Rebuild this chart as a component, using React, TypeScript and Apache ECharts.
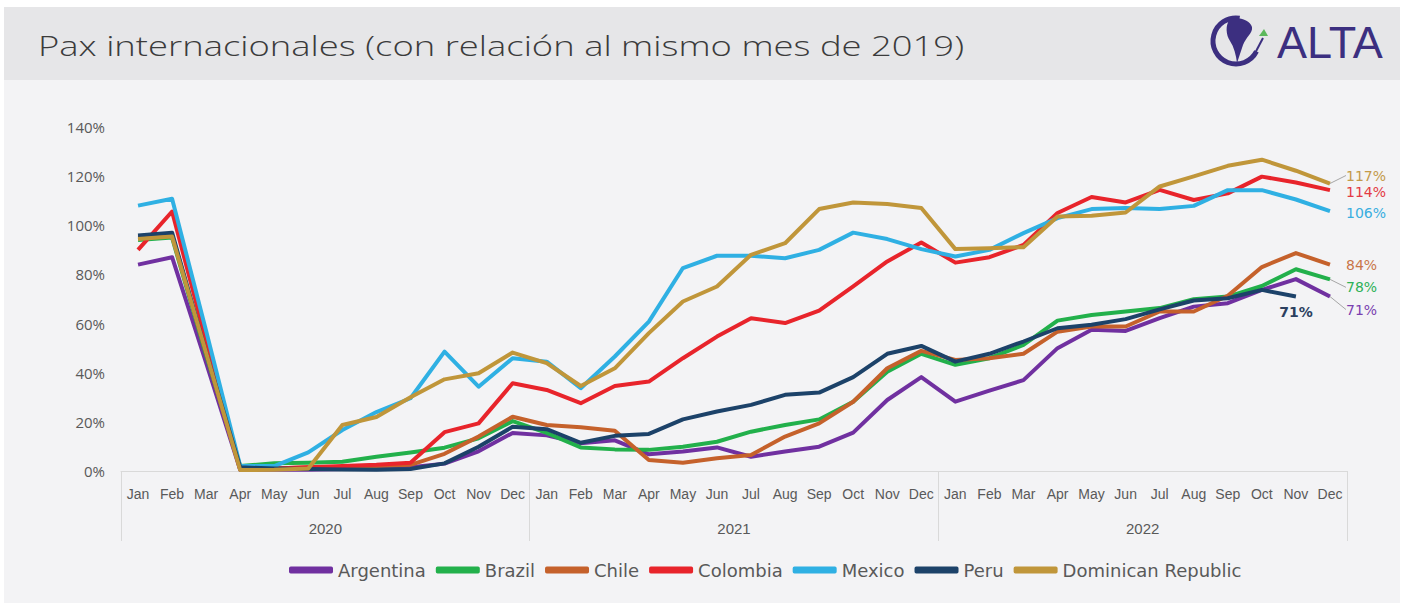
import React, { useEffect, useRef } from "react";
import * as echarts from "echarts";

const years = ["2020", "2021", "2022"];
const months = ["Jan", "Feb", "Mar", "Apr", "May", "Jun", "Jul", "Aug", "Sep", "Oct", "Nov", "Dec"];
const categories = [...months, ...months, ...months];
const yTicks = { min: 0, max: 140, interval: 20 };

const argentina = [84, 87, 44, 0.5, 0.5, 0.5, 0.8, 1, 1.5, 3, 8, 15.5,
  14.5, 11.3, 12.5, 6.8, 7.9, 9.6, 5.8, 7.9, 9.9, 15.6, 28.9, 38.2,
  28.2, 32.7, 37, 50, 57.5, 57, 62.2, 66.9, 68.3, 73.7, 78.1, 71];
const brazil = [94, 95, 47, 2, 3.2, 3.4, 3.8, 5.8, 7.5, 9.5, 13.3, 20.3,
  15.5, 9.6, 8.8, 8.6, 9.9, 11.9, 16, 18.7, 21, 28.2, 40.4, 47.7,
  43.2, 45.9, 51.3, 61.2, 63.5, 64.9, 66.3, 69.9, 71, 75.3, 82.1, 78];
const chile = [95, 96, 48, 0.5, 1, 1.5, 1.5, 2, 2.5, 7, 14, 22.1,
  18.7, 17.8, 16.4, 4.5, 3.4, 5.2, 6.5, 14, 19.4, 28.2, 41.8, 48.9,
  45.2, 45.9, 47.7, 56.7, 58.8, 58.8, 64.9, 64.9, 71.3, 83, 88.7, 84];
const colombia = [90, 105.6, 53, 1, 1, 1.5, 2, 2.5, 3.4, 15.8, 19.4, 35.7,
  33, 27.6, 34.6, 36.4, 45.9, 54.7, 62.2, 60.2, 65.3, 75.1, 85.3, 93,
  84.8, 87, 92, 105, 111.5, 109.3, 114.4, 110.3, 113, 119.8, 117.4, 114.3];
const mexico = [108, 110.8, 57, 2, 2, 7.6, 16.7, 24, 29.6, 48.6, 34.3, 45.9,
  44.5, 33.7, 46.6, 60.8, 82.6, 87.6, 87.6, 86.6, 90, 97, 94.4, 90.3,
  87.3, 90, 96.8, 102.9, 106.6, 107, 106.6, 107.9, 114.3, 114.3, 110.5, 105.8];
const peru = [95.8, 97, 48, 1.5, 1, 0.8, 0.6, 0.5, 0.8, 3.1, 9.9, 18,
  17, 11.5, 14.3, 15.1, 21, 24.2, 26.9, 31, 31.9, 38.2, 47.7, 50.9,
  44.5, 47.7, 52.7, 58.1, 59.5, 61.8, 65.8, 69.4, 70.3, 73.7, 71, null];
const dominican = [94.4, 95.4, 48, 0.4, 0.5, 1, 18.7, 22, 30, 37.3, 39.8, 48.2,
  43.9, 34.6, 41.8, 56.1, 69, 75.1, 88, 92.7, 106.6, 109.3, 108.7, 107,
  90.3, 90.7, 91.1, 103.6, 103.9, 105.2, 115.8, 119.9, 124.2, 126.7, 122.2, 117];

const seriesDefs = [
  { name: "Argentina", data: argentina, color: "#7030a0", label: "#7a3fb0", dy: 13, pos: "right" },
  { name: "Brazil", data: brazil, color: "#22b04b", label: "#2eb157", dy: 8, pos: "right" },
  { name: "Chile", data: chile, color: "#c5612b", label: "#c97548", dy: 0, pos: "right" },
  { name: "Colombia", data: colombia, color: "#e8242b", label: "#e33a44", dy: 2, pos: "right" },
  { name: "Mexico", data: mexico, color: "#2fb0e3", label: "#39aee0", dy: 2, pos: "right" },
  { name: "Peru", data: peru, color: "#1c4269", label: "#2b3f5f", dy: 0, pos: "bottom" },
  { name: "Dominican Republic", data: dominican, color: "#c0963a", label: "#c39a4a", dy: -8, pos: "right" },
];

const SANS = "'Open Sans', 'Noto Sans', sans-serif";
const AXISFONT = "'Liberation Sans', Arial, sans-serif";
const WIDEFONT = "'DejaVu Sans', 'Liberation Sans', sans-serif";

function buildData(values: (number | null)[], def: any) {
  let last = values.length - 1;
  while (last >= 0 && values[last] == null) last--;
  return values.map((v, i) => {
    if (i !== last) return v;
    return {
      value: v,
      label: {
        show: true,
        position: def.pos,
        distance: def.pos === "right" ? 16 : 8,
        color: def.label,
        fontSize: 14,
        fontFamily: WIDEFONT,
        fontWeight: def.pos === "bottom" ? "bold" : "normal",
        formatter: Math.round(v as number) + "%",
      },
    };
  });
}

export default function App() {
  const ref = useRef<HTMLDivElement>(null);
  useEffect(() => {
    document.body.style.margin = "0";
    const chart = echarts.init(ref.current!, null, { renderer: "svg" });
    const logoD = "M 4 2 C 12 -1 24 3 26 10 C 27 16 20 20 17 28 C 15 34 13 40 11 46 C 10 38 8 30 4 24 C 0 18 -1 8 4 2 Z";
    echarts.graphic.registerShape("altaContinent", echarts.graphic.extendPath(logoD, {}) as any);
    chart.setOption({
      animation: false,
      backgroundColor: "#ffffff",
      graphic: [
        { type: "rect", z: -10, shape: { x: 4, y: 7, width: 1396, height: 596 }, style: { fill: "#f3f3f5" } },
        { type: "rect", z: -9, shape: { x: 4, y: 7, width: 1396, height: 73 }, style: { fill: "#e6e6e8" } },
        {
          type: "text", x: 38, y: 45, scaleX: 1.3,
          style: {
            text: "Pax internacionales (con relación al mismo mes de 2019)",
            fontSize: 28, fontFamily: SANS, fill: "#3b3b3b", verticalAlign: "middle", fontWeight: 300,
          },
        },
        { type: "arc", shape: { cx: 1236, cy: 41, r: 23, startAngle: Math.PI * 0.15, endAngle: Math.PI * 1.55, clockwise: true }, style: { stroke: "#3c2f80", lineWidth: 5, fill: null } },
        { type: "altaContinent", x: 1226, y: 17, style: { fill: "#3c2f80" } },
        { type: "line", shape: { x1: 1253, y1: 57, x2: 1263, y2: 38 }, style: { stroke: "#3c2f80", lineWidth: 2 } },
        { type: "polygon", shape: { points: [[1259, 36], [1264, 29], [1268, 36]] }, style: { fill: "#5cb85c" } },
        { type: "text", x: 1277, y: 42, style: { text: "ALTA", fontSize: 45, fill: "#3c2f80", fontFamily: "'Liberation Sans', Arial, sans-serif", verticalAlign: "middle" } },
      ],
      grid: { left: 121, right: 58, top: 127, bottom: 137 },
      legend: {
        bottom: 24,
        left: 284,
        icon: "roundRect",
        itemWidth: 44,
        itemHeight: 7,
        itemGap: 10,
        textStyle: { fontSize: 18, color: "#595959", fontFamily: WIDEFONT },
        data: seriesDefs.map((d) => d.name),
      },
      xAxis: [
        {
          type: "category",
          data: categories,
          axisLine: { lineStyle: { color: "#d9d9d9", width: 1 } },
          axisTick: { show: false },
          axisLabel: { interval: 0, color: "#595959", fontSize: 14, fontFamily: AXISFONT, margin: 16 },
        },
        {
          type: "category",
          data: years,
          position: "bottom",
          axisLine: { show: false },
          axisTick: { show: true, length: 70, lineStyle: { color: "#d9d9d9" } },
          axisLabel: { color: "#595959", fontSize: 15, fontFamily: AXISFONT, margin: 50 },
        },
      ],
      yAxis: {
        type: "value",
        min: yTicks.min,
        max: yTicks.max,
        interval: yTicks.interval,
        axisLine: { show: false },
        axisTick: { show: false },
        splitLine: { show: false },
        axisLabel: { formatter: "{value}%", color: "#595959", fontSize: 15, fontFamily: SANS, margin: 16 },
      },
      series: seriesDefs.map((d) => ({
        name: d.name,
        type: "line",
        xAxisIndex: 0,
        data: buildData(d.data, d),
        symbol: "circle",
        symbolSize: 0,
        showSymbol: true,
        showAllSymbol: true,
        color: d.color,
        lineStyle: { width: 4, color: d.color, join: "round" },
        labelLayout: { dy: d.dy },
        labelLine: { show: d.pos === "right" && Math.abs(d.dy) > 3, lineStyle: { color: "#a6a6a6", width: 1 } },
      })),
    });
    return () => chart.dispose();
  }, []);
  return <div ref={ref} style={{ width: 1405, height: 608 }} />;
}
